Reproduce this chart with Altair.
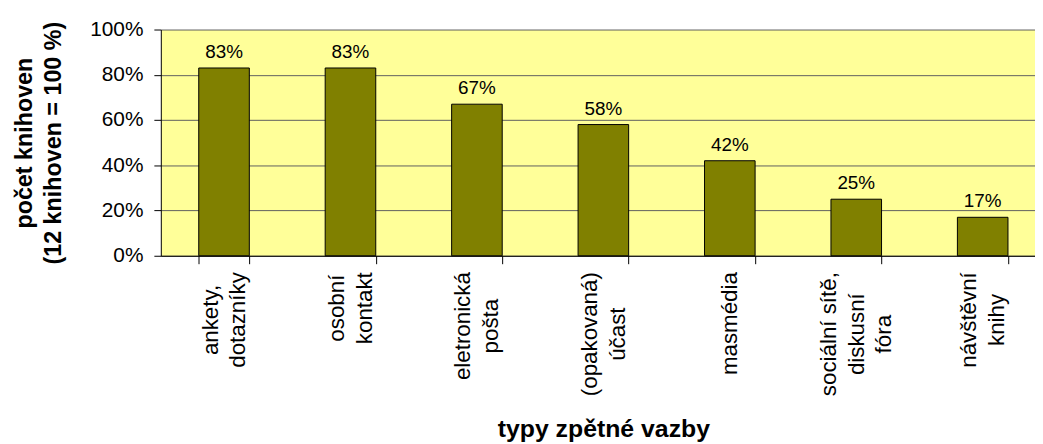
import json
import altair as alt
import pandas as pd

# ---- data ----
categories = [
    "ankety,\ndotazníky",
    "osobní\nkontakt",
    "eletronická\npošta",
    "(opakovaná)\núčast",
    "masmédia",
    "sociální sítě,\ndiskusní\nfóra",
    "návštěvní\nknihy",
]
shares = [0.83, 0.83, 0.67, 0.58, 0.42, 0.25, 0.17]
y_ticks = [0.0, 0.2, 0.4, 0.6, 0.8, 1.0]

FONT = "Liberation Sans"
LABEL_SIZE = 22.5
LINE_H = 28

# approximate Arial advance widths (em), used to top-anchor centred wrapped labels
_W = {"m": 0.833, "w": 0.722, "f": 0.278, "t": 0.278, "i": 0.222, "í": 0.278,
      "l": 0.222, "j": 0.222, "r": 0.333, ",": 0.278, " ": 0.278, "(": 0.333,
      ")": 0.333, "s": 0.5, "š": 0.5, "k": 0.5, "v": 0.5, "y": 0.5, "z": 0.5,
      "c": 0.5, "č": 0.5}


def _width(s):
    return sum(_W.get(ch, 0.556) for ch in s)


def half_block(label):
    return max(_width(l) for l in label.split("\n")) * LABEL_SIZE / 2


def _test(c):
    return "datum.value == " + json.dumps(c, ensure_ascii=False)


pad_conditions = [{"test": _test(c), "value": round(8 + half_block(c), 1)} for c in categories]
off_conditions = [
    {"test": _test(c), "value": -(c.count("\n")) * LINE_H / 2}
    for c in categories if "\n" in c
]

df = pd.DataFrame({"typ": categories, "podil": shares})

x = alt.X(
    "typ:N",
    sort=categories,
    scale=alt.Scale(range=[0, 892], paddingInner=0.6, paddingOuter=0.3),
    axis=alt.Axis(
        title="typy zpětné vazby",
        titleFont=FONT, titleFontSize=25, titleFontWeight="bold", titleColor="black",
        titleX=446, titleY=182, titleAlign="center", titleBaseline="alphabetic",
        labelFont=FONT, labelFontSize=LABEL_SIZE, labelColor="black", labelLineHeight=LINE_H,
        labelAngle=-90, labelAlign="center", labelBaseline="middle",
        labelPadding={"condition": pad_conditions, "value": 8},
        labelOffset={"condition": off_conditions, "value": 0},
        labelExpr="split(datum.label, '\\n')", labelOverlap=False, labelLimit=0,
        tickBand="extent", tickSize=8, tickColor="black", domainColor="black",
        grid=False,
    ),
)

y = alt.Y(
    "podil:Q",
    scale=alt.Scale(domain=[0, 1], nice=False),
    axis=alt.Axis(
        values=y_ticks, format=".0%",
        title=["počet knihoven", "(12 knihoven = 100 %)"],
        titleFont=FONT, titleFontSize=23.5, titleFontWeight="bold", titleColor="black",
        titleAngle=-90, titleAlign="center", titleBaseline="middle",
        titleX=-137, titleY=114, titleLineHeight=29,
        labelFont=FONT, labelFontSize=21, labelColor="black", labelPadding=11,
        tickSize=7, tickColor="black", domainColor="black",
        grid=True, gridColor="#606060", gridWidth=1,
    ),
)

base = alt.Chart(df)
bars = base.mark_bar(color="#808000", stroke="black", strokeWidth=1).encode(x=x, y=y)
texts = base.mark_text(font=FONT, fontSize=19, color="black", baseline="alphabetic", dy=-10).encode(
    x=x, y=y, text=alt.Text("podil:Q", format=".0%")
)

chart = (
    alt.layer(bars, texts)
    .properties(
        width=881, height=228,
        padding={"left": 154, "top": 20, "right": 0, "bottom": 188},
        autosize=alt.AutoSizeParams(type="none"),
    )
    .configure(background="white")
    .configure_view(fill="#FFFF99", stroke="transparent")
)

chart.save("out.html", embed_options={"renderer": "svg", "actions": False})
